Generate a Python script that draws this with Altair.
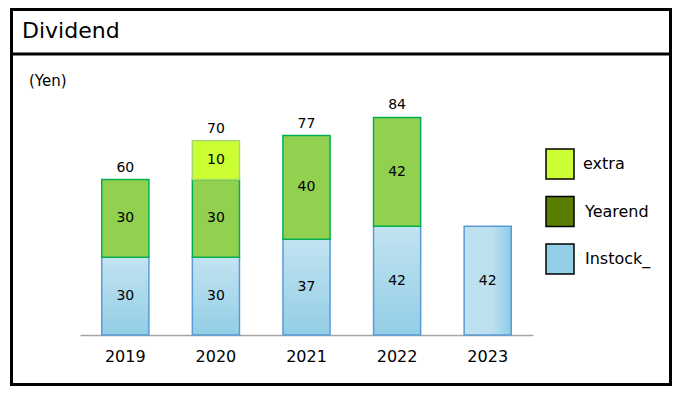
import altair as alt
import pandas as pd

# ---- data ----
years = ["2019", "2020", "2021", "2022", "2023"]
instock = [30, 30, 37, 42, 42]
yearend = [30, 30, 40, 42, None]
extra = [None, 10, None, None, None]          # printed value
extra_drawn = [None, 15, None, None, None]    # height the box is drawn with in the picture
totals = [60, 70, 77, 84, None]
totals_drawn = [60, 75, 77, 84, None]         # height of the drawn stack top

legend_labels = ["extra", "Yearend", "Instock_"]
legend_colors = ["#CCFF33", "#5C7E00", "#92CFE7"]

rows = []
for i, yr in enumerate(years):
    base = 0
    for name, vals, lab in [("Instock_", instock, instock), ("Yearend", yearend, yearend),
                            ("extra", extra_drawn, extra)]:
        v = vals[i]
        if v is None:
            continue
        rows.append(dict(year=yr, series=name, start=base, end=base + v, value=lab[i], mid=base + v / 2))
        base += v
seg = pd.DataFrame(rows)
tot = pd.DataFrame({"year": years, "total": totals, "top": totals_drawn}).dropna()

FONT = "DejaVu Sans"

xenc = alt.X(
    "year:N",
    scale=alt.Scale(domain=years, paddingInner=0.48, paddingOuter=0.24),
    axis=alt.Axis(title=None, labelAngle=0, ticks=False, domainColor="#A6A6A6",
                  domainWidth=1.5, labelFontSize=16, labelColor="black",
                  labelPadding=13, labelFont=FONT),
)
yscale = alt.Scale(domain=[0, 100], nice=False, zero=True)

base = alt.Chart(seg).encode(
    x=xenc,
    y=alt.Y("start:Q", scale=yscale, axis=None),
    y2="end:Q",
)

grad_v = {"gradient": "linear", "x1": 0, "y1": 0, "x2": 0, "y2": 1,
          "stops": [{"offset": 0, "color": "#C2E3F1"}, {"offset": 1, "color": "#93CEE6"}]}
grad_h = {"gradient": "linear", "x1": 0, "y1": 0, "x2": 1, "y2": 0,
          "stops": [{"offset": 0, "color": "#C0E2F0"}, {"offset": 0.6, "color": "#BCE0EF"},
                    {"offset": 1, "color": "#8DCCE5"}]}

inst_v = base.transform_filter("datum.series == 'Instock_' && datum.year != '2023'").mark_bar(
    fill=grad_v, stroke="#5B9BD5", strokeWidth=1.5)
inst_h = base.transform_filter("datum.series == 'Instock_' && datum.year == '2023'").mark_bar(
    fill=grad_h, stroke="#5B9BD5", strokeWidth=1.5)
ye = base.transform_filter("datum.series == 'Yearend'").mark_bar(
    fill="#92D050", stroke="#00B050", strokeWidth=1.5)
ex = base.transform_filter("datum.series == 'extra'").mark_bar(
    fill="#CCFF33", stroke="#A6D86E", strokeWidth=1.5)

seg_labels = alt.Chart(seg).mark_text(fontSize=14, font=FONT, color="black", baseline="middle").encode(
    x=xenc, y=alt.Y("mid:Q", scale=yscale, axis=None), text=alt.Text("value:Q", format="d"))

tot_labels = alt.Chart(tot).mark_text(fontSize=14, font=FONT, color="black",
                                      baseline="alphabetic", dy=-8).encode(
    x=xenc, y=alt.Y("top:Q", scale=yscale, axis=None), text=alt.Text("total:Q", format="d"))

one = pd.DataFrame({"k": [0]})
frame = alt.Chart(one).mark_rect(fillOpacity=0, stroke="black", strokeWidth=3).encode(
    x=alt.value(-68.5), x2=alt.value(590.5), y=alt.value(-66.5), y2=alt.value(308.5))
sep = alt.Chart(one).mark_rule(stroke="black", strokeWidth=3).encode(
    x=alt.value(-68.5), x2=alt.value(590.5), y=alt.value(-22))
title = alt.Chart(one).mark_text(text="Dividend", fontSize=22, font=FONT, align="left",
                                 baseline="alphabetic", color="black").encode(
    x=alt.value(-58), y=alt.value(-38))
yen = alt.Chart(one).mark_text(text="(Yen)", fontSize=15, font=FONT, align="left",
                               baseline="alphabetic", color="black").encode(
    x=alt.value(-51), y=alt.value(10))

legend_layers = []
for i, (lab, col) in enumerate(zip(legend_labels, legend_colors)):
    y0 = 73 + i * 47.5
    legend_layers.append(
        alt.Chart(one).mark_rect(fill=col, stroke="black", strokeWidth=1.5).encode(
            x=alt.value(466), x2=alt.value(494), y=alt.value(y0), y2=alt.value(y0 + 30)))
    legend_layers.append(
        alt.Chart(one).mark_text(text=lab, fontSize=16, font=FONT, align="left",
                                 baseline="middle", color="black").encode(
            x=alt.value(503 + (0 if i == 0 else 2)), y=alt.value(y0 + 15)))

chart = alt.layer(
    inst_v, inst_h, ye, ex, seg_labels, tot_labels, frame, sep, title, yen, *legend_layers
).properties(
    width=453, height=259,
    autosize=alt.AutoSizeParams(type="none"),
    padding={"left": 72, "top": 68, "right": 139, "bottom": 51},
).configure(font=FONT).configure_view(strokeWidth=0, stroke="transparent")

chart.save("out.html", embed_options={"renderer": "svg", "actions": False})
